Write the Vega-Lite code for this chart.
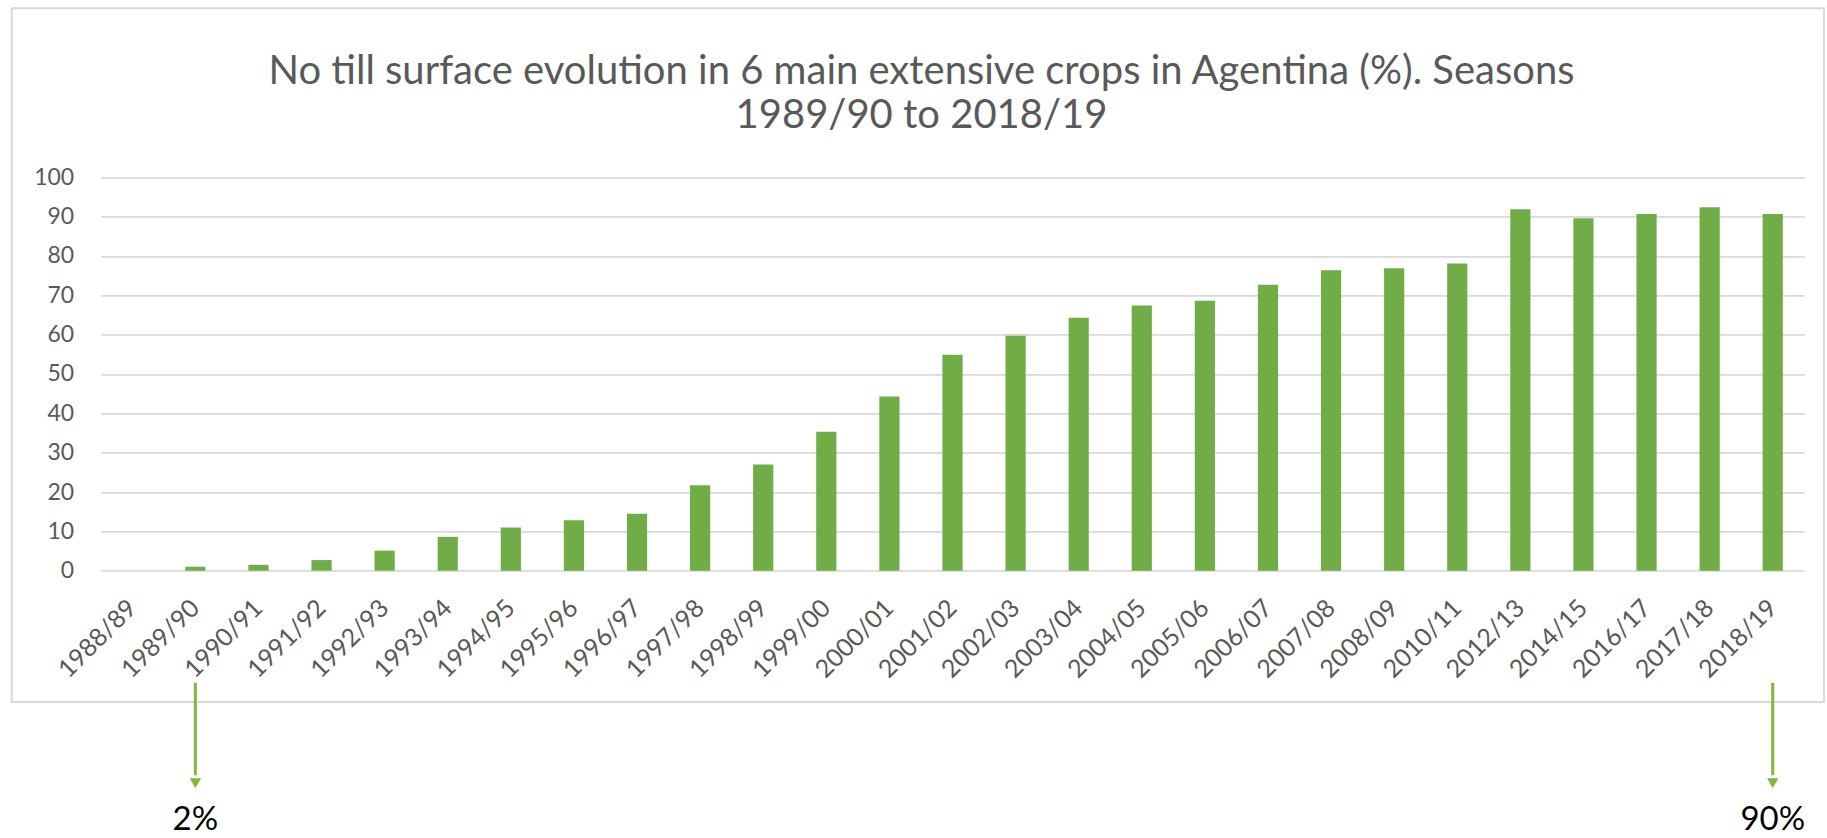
{
  "$schema": "https://vega.github.io/schema/vega-lite/v6.json",
  "width": 1703.6,
  "height": 393.4,
  "autosize": {"type": "none"},
  "padding": {"left": 100.7, "top": 177.3, "right": 23, "bottom": 268},
  "background": "white",
  "title": {
    "text": ["No till surface evolution in  6 main extensive crops in Agentina (%). Seasons", "1989/90 to 2018/19"],
    "fontSize": 40,
    "font": "Lato",
    "fontWeight": "normal",
    "color": "#595959",
    "anchor": "middle",
    "dx": -31,
    "offset": -129,
    "lineHeight": 44
  },
  "resolve": {"scale": {"x": "independent"}},
  "layer": [
    {
      "data": {"values": [{}]},
      "mark": {"type": "rect", "fillOpacity": 0, "stroke": "#d9d9d9", "strokeWidth": 2},
      "encoding": {
        "x": {"datum": -0.05224, "type": "quantitative", "scale": {"domain": [0, 1]}, "axis": null},
        "x2": {"datum": 1.01156},
        "y": {
          "datum": 142.96,
          "type": "quantitative",
          "scale": {"domain": [0, 100]},
          "axis": {"title": null, "values": [0, 10, 20, 30, 40, 50, 60, 70, 80, 90, 100], "tickCount": 11}
        },
        "y2": {"datum": -33.37}
      }
    },
    {
      "layer": [
        {
          "data": {
            "values": [
              {"season": "1988/89", "value": 0},
              {"season": "1989/90", "value": 1.0},
              {"season": "1990/91", "value": 1.5},
              {"season": "1991/92", "value": 2.7},
              {"season": "1992/93", "value": 5.1},
              {"season": "1993/94", "value": 8.6},
              {"season": "1994/95", "value": 11.0},
              {"season": "1995/96", "value": 12.8},
              {"season": "1996/97", "value": 14.5},
              {"season": "1997/98", "value": 21.7},
              {"season": "1998/99", "value": 27.0},
              {"season": "1999/00", "value": 35.3},
              {"season": "2000/01", "value": 44.3},
              {"season": "2001/02", "value": 54.9},
              {"season": "2002/03", "value": 59.7},
              {"season": "2003/04", "value": 64.3},
              {"season": "2004/05", "value": 67.4},
              {"season": "2005/06", "value": 68.6},
              {"season": "2006/07", "value": 72.7},
              {"season": "2007/08", "value": 76.4},
              {"season": "2008/09", "value": 76.9},
              {"season": "2010/11", "value": 78.1},
              {"season": "2012/13", "value": 91.9},
              {"season": "2014/15", "value": 89.6},
              {"season": "2016/17", "value": 90.7},
              {"season": "2017/18", "value": 92.4},
              {"season": "2018/19", "value": 90.7}
            ]
          },
          "mark": {"type": "bar", "color": "#70ad47"},
          "encoding": {
            "x": {
              "field": "season",
              "type": "nominal",
              "scale": {"paddingInner": 0.68, "paddingOuter": 0.34},
              "axis": {
                "title": null,
                "labelAngle": -45,
                "labelAlign": "right",
                "labelBaseline": "middle",
                "labelPadding": 33,
                "labelFontSize": 25,
                "labelFont": "Lato",
                "labelColor": "#595959",
                "labelOverlap": false,
                "ticks": false,
                "domain": false,
                "grid": false
              }
            },
            "y": {
              "field": "value",
              "type": "quantitative",
              "scale": {"domain": [0, 100]},
              "axis": {"title": null, "values": [0, 10, 20, 30, 40, 50, 60, 70, 80, 90, 100], "tickCount": 11}
            }
          }
        },
        {
          "data": {
            "values": [
              {"season": "1989/90", "note": "2%"},
              {"season": "2018/19", "note": "90%"}
            ]
          },
          "layer": [
            {
              "mark": {"type": "rule", "color": "#7cba3c", "strokeWidth": 3},
              "encoding": {
                "x": {"field": "season", "type": "nominal"},
                "y": {"datum": -28.5, "type": "quantitative", "scale": {"domain": [0, 100]}, "axis": {"title": null, "values": [0, 10, 20, 30, 40, 50, 60, 70, 80, 90, 100], "tickCount": 11}},
                "y2": {"datum": -52}
              }
            },
            {
              "mark": {"type": "point", "shape": "triangle-down", "filled": true, "color": "#7cba3c", "size": 130, "opacity": 1},
              "encoding": {
                "x": {"field": "season", "type": "nominal"},
                "y": {"datum": -54, "type": "quantitative", "scale": {"domain": [0, 100]}, "axis": {"title": null, "values": [0, 10, 20, 30, 40, 50, 60, 70, 80, 90, 100], "tickCount": 11}}
              }
            },
            {
              "mark": {"type": "text", "font": "Lato", "fontSize": 33, "color": "#000000", "baseline": "bottom", "align": "center"},
              "encoding": {
                "x": {"field": "season", "type": "nominal"},
                "y": {"datum": -67.7, "type": "quantitative", "scale": {"domain": [0, 100]}, "axis": {"title": null, "values": [0, 10, 20, 30, 40, 50, 60, 70, 80, 90, 100], "tickCount": 11}},
                "text": {"field": "note"}
              }
            }
          ]
        }
      ]
    }
  ],
  "config": {
    "view": {"stroke": null},
    "axisY": {
      "tickCount": 11,
      "labelOverlap": false,
      "labelPadding": 27,
      "labelFontSize": 23,
      "labelFont": "Lato",
      "labelColor": "#595959",
      "ticks": false,
      "domain": false,
      "grid": true,
      "gridColor": "#d9d9d9",
      "gridWidth": 1.8
    }
  }
}
